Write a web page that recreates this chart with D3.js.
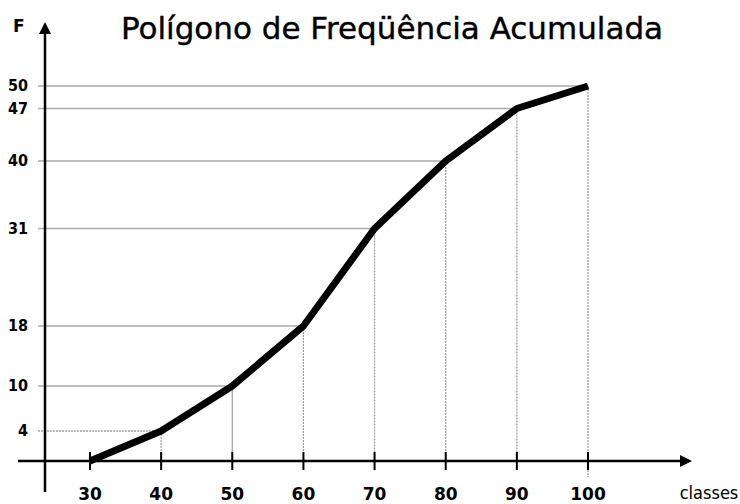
<!DOCTYPE html>
<html><head><meta charset="utf-8">
<script src="https://cdn.jsdelivr.net/npm/d3@7"></script>
<style>body{margin:0;background:#fff}svg{display:block}</style>
</head><body><svg id="c" width="740" height="504"></svg>
<script>
const classes = [30, 40, 50, 60, 70, 80, 90, 100];
const freqAcum = [0, 4, 10, 18, 31, 40, 47, 50];
const yTicks = [4, 10, 18, 31, 40, 47, 50];
const titleText = "Polígono de Freqüência Acumulada";

const svg = d3.select("#c");
const x = d3.scaleLinear().domain([30, 100]).range([90, 588]);
const y = d3.scaleLinear().domain([0, 50]).range([461, 86]);
const data = classes.map((c, i) => ({x: c, y: freqAcum[i]}));
const x0 = 45;

// horizontal guides
svg.append("g").selectAll("line").data(data.filter(d => d.y > 0)).join("line")
  .attr("x1", 38).attr("x2", d => x(d.x))
  .attr("y1", d => y(d.y)).attr("y2", d => y(d.y))
  .attr("stroke", d => d.y === 4 ? "#777" : "#aaa")
  .attr("stroke-width", d => d.y === 4 ? 1.2 : 1.5)
  .attr("stroke-dasharray", d => d.y === 4 ? "2,1" : null);

// vertical guides
svg.append("g").selectAll("line").data(data.filter(d => d.y > 0)).join("line")
  .attr("x1", d => x(d.x)).attr("x2", d => x(d.x))
  .attr("y1", d => y(d.y)).attr("y2", d => d.x === 100 ? 477 : y(0))
  .attr("stroke", "#999").attr("stroke-width", 1.2)
  .attr("stroke-dasharray", d => d.x === 50 ? null : "2,1");

// axes
svg.append("line").attr("x1", 18).attr("x2", 680).attr("y1", y(0)).attr("y2", y(0))
  .attr("stroke", "#000").attr("stroke-width", 2.5);
svg.append("path").attr("d", `M680,${y(0)-6}L692,${y(0)}L680,${y(0)+6}Z`).attr("fill", "#000");
svg.append("line").attr("x1", x0).attr("x2", x0).attr("y1", 492).attr("y2", 32)
  .attr("stroke", "#000").attr("stroke-width", 2.5);
svg.append("path").attr("d", `M${x0-6},34L${x0},22L${x0+6},34Z`).attr("fill", "#000");

// x ticks
svg.append("g").selectAll("line").data(classes).join("line")
  .attr("x1", d => x(d)).attr("x2", d => x(d))
  .attr("y1", y(0) - 9).attr("y2", y(0) + 9)
  .attr("stroke", "#000").attr("stroke-width", 2);

svg.append("g").selectAll("text").data(classes).join("text")
  .attr("x", d => x(d)).attr("y", 500)
  .attr("text-anchor", "middle")
  .attr("font-family", "DejaVu Sans, Verdana, sans-serif")
  .attr("font-weight", "bold")
  .attr("font-size", 17).attr("fill", "#000")
  .text(d => d);

// y labels
svg.append("g").selectAll("text").data(yTicks).join("text")
  .attr("x", 28).attr("y", d => y(d) + 5)
  .attr("text-anchor", "end")
  .attr("font-family", "DejaVu Sans Condensed, DejaVu Sans, sans-serif")
  .attr("font-weight", "bold")
  .attr("font-size", 16).attr("fill", "#000")
  .text(d => d);

// polygon line
svg.append("path").datum(data)
  .attr("d", d3.line().x(d => x(d.x)).y(d => y(d.y)))
  .attr("fill", "none").attr("stroke", "#000").attr("stroke-width", 7)
  .attr("stroke-linejoin", "round").attr("stroke-linecap", "butt");

// title & axis labels
svg.append("text").attr("x", 392).attr("y", 39).attr("text-anchor", "middle")
  .attr("font-family", "DejaVu Sans, Verdana, sans-serif").attr("font-size", 31)
  .attr("stroke", "#000").attr("stroke-width", 0.4)
  .attr("fill", "#000").text(titleText);
svg.append("text").attr("x", 13).attr("y", 32)
  .attr("font-family", "DejaVu Sans, sans-serif").attr("font-weight", "bold")
  .attr("font-size", 17).attr("fill", "#000").text("F");
svg.append("text").attr("x", 709).attr("y", 499).attr("text-anchor", "middle")
  .attr("font-family", "DejaVu Sans Condensed, DejaVu Sans, sans-serif").attr("font-size", 18)
  .attr("fill", "#000").text("classes");
</script></body></html>
